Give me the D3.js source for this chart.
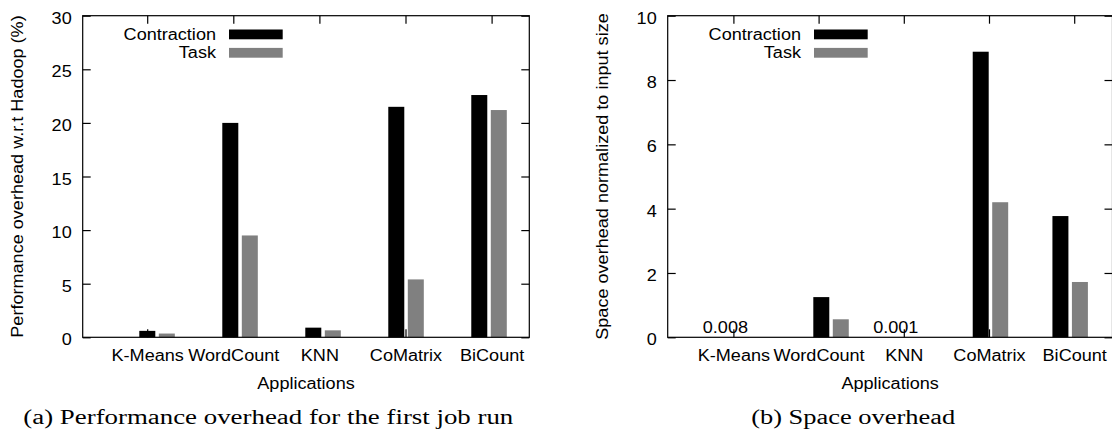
<!DOCTYPE html>
<html lang="en">
<head>
<meta charset="UTF-8">
<title>Contraction overhead</title>
<script src="https://d3js.org/d3.v7.min.js"></script>
<style>
    body { margin: 0; background: #fff; }
    svg text { font-family: "Liberation Sans", Arial, sans-serif; font-size: 16px; fill: #000; }
    svg text.caption { font-family: "Liberation Serif", "Times New Roman", serif; font-size: 20px; }
</style>
</head>
<body>
<svg id="chart" width="1112" height="430"></svg>
<script>
    const apps = ["K-Means", "WordCount", "KNN", "CoMatrix", "BiCount"];
    const series = ["Contraction", "Task"];
    const seriesColors = { Contraction: "#000000", Task: "#808080" };

    // (a) performance overhead, %
    const perfContraction = [0.6, 20.0, 0.9, 21.5, 22.6];
    const perfTask = [0.35, 9.5, 0.65, 5.4, 21.2];
    const perfTicks = [0, 5, 10, 15, 20, 25, 30];

    // (b) space overhead, normalized to input size
    const spaceContraction = [0.008, 1.25, 0.001, 8.88, 3.77];
    const spaceTask = [0, 0.56, 0, 4.2, 1.72];
    const spaceLabels = ["0.008", "", "0.001", "", ""];
    const spaceTicks = [0, 2, 4, 6, 8, 10];

    const svg = d3.select("#chart");
    const WIDE = 1.13; // the figure's glyphs are wider than Arial
    const plotTop = 15.7, plotBottom = 337.3;

    function drawPanel(p) {
        const w = p.right - p.left, h = plotBottom - plotTop;
        const g = svg.append("g").attr("transform", "translate(" + p.left + "," + plotTop + ")");

        const y = d3.scaleLinear().domain([0, p.yMax]).range([h, 0]);
        const xTick = d3.scalePoint().domain(apps).range(p.tickRange);
        const xGroup = d3.scaleBand().domain(apps).range(p.groupRange)
            .paddingInner(p.groupPad).paddingOuter(0);
        const xSeries = d3.scaleBand().domain(series).range([0, xGroup.bandwidth()]).paddingInner(0.18);

        // axes, gnuplot style: inward ticks, mirrored on top/right
        const bottomAxis = g.append("g").attr("transform", "translate(0," + h + ")")
            .call(d3.axisBottom(xTick).tickSize(-8).tickPadding(12.5));
        bottomAxis.selectAll("text").attr("transform", "scale(" + WIDE + ",1)");

        g.append("g").call(d3.axisTop(xTick).tickSize(-8).tickFormat(""));

        const leftAxis = g.append("g")
            .call(d3.axisLeft(y).tickValues(p.ticks).tickSize(-8).tickPadding(11));
        leftAxis.selectAll("text")
            .attr("x", -11 / WIDE)
            .attr("dy", "0.47em")
            .attr("transform", "scale(" + WIDE + ",1)");

        g.append("g").attr("transform", "translate(" + w + ",0)")
            .call(d3.axisRight(y).tickValues(p.ticks).tickSize(-8).tickFormat(""));

        g.selectAll(".domain").remove();
        g.selectAll(".tick line").attr("stroke", "#000").attr("stroke-width", 1.2);

        // bars
        series.forEach((s, si) => {
            const vals = p.values[si];
            g.selectAll(".bar-" + s)
                .data(apps.map((a, i) => ({ app: a, v: vals[i] })))
                .enter().append("rect")
                .attr("class", "bar-" + s)
                .attr("x", d => xGroup(d.app) + xSeries(s))
                .attr("width", xSeries.bandwidth())
                .attr("y", d => y(d.v))
                .attr("height", d => h - y(d.v))
                .attr("fill", seriesColors[s]);
        });

        // frame
        g.append("rect")
            .attr("width", w).attr("height", h)
            .attr("fill", "none").attr("stroke", "#000").attr("stroke-width", 1.2);

        // value labels for tiny bars
        if (p.labels) {
            g.selectAll(".vlabel")
                .data(apps.map((a, i) => ({ app: a, t: p.labels[i] })).filter(d => d.t))
                .enter().append("text")
                .attr("text-anchor", "middle")
                .attr("transform", d => "translate(" + (xTick(d.app) - 8) + "," + (y(0) - 4) + ") scale(" + WIDE + ",1)")
                .text(d => d.t);
        }

        // legend
        const legend = g.selectAll(".legend")
            .data(series)
            .enter().append("g")
            .attr("transform", (d, i) => "translate(0," + i * 18.4 + ")");
        legend.append("text")
            .attr("text-anchor", "end")
            .attr("transform", "translate(133.3,24.3) scale(" + WIDE + ",1)")
            .text(d => d);
        legend.append("rect")
            .attr("x", 146.3).attr("y", 13.8)
            .attr("width", 53.7).attr("height", 9.8)
            .attr("fill", d => seriesColors[d]);

        // axis titles
        svg.append("text")
            .attr("text-anchor", "middle")
            .attr("transform", "translate(" + (p.left - 59.4) + "," + (plotTop + h / 2) + ") rotate(-90) scale(" + WIDE + ",1)")
            .text(p.yTitle);

        svg.append("text")
            .attr("text-anchor", "middle")
            .attr("transform", "translate(" + (p.left + w / 2) + ",389.3) scale(" + WIDE + ",1)")
            .text("Applications");

        // subfigure caption
        svg.append("text")
            .attr("class", "caption")
            .attr("text-anchor", "middle")
            .attr("x", p.captionX).attr("y", 424)
            .attr("textLength", p.captionLen)
            .attr("lengthAdjust", "spacingAndGlyphs")
            .text(p.caption);
    }

    drawPanel({
        left: 82.7, right: 529.3, yMax: 30, ticks: perfTicks,
        values: [perfContraction, perfTask],
        tickRange: [64.5, 408.9], groupRange: [56.6, 424.1], groupPad: 0.572,
        yTitle: "Performance overhead w.r.t Hadoop (%)",
        caption: "(a) Performance overhead for the first job run",
        captionX: 268.3, captionLen: 490
    });

    drawPanel({
        left: 667.7, right: 1112.5, yMax: 10, ticks: spaceTicks,
        values: [spaceContraction, spaceTask], labels: spaceLabels,
        tickRange: [65.7, 406.5], groupRange: [65.9, 420.2], groupPad: 0.555,
        yTitle: "Space overhead normalized to input size",
        caption: "(b) Space overhead",
        captionX: 853.2, captionLen: 204
    });
</script>
</body>
</html>
